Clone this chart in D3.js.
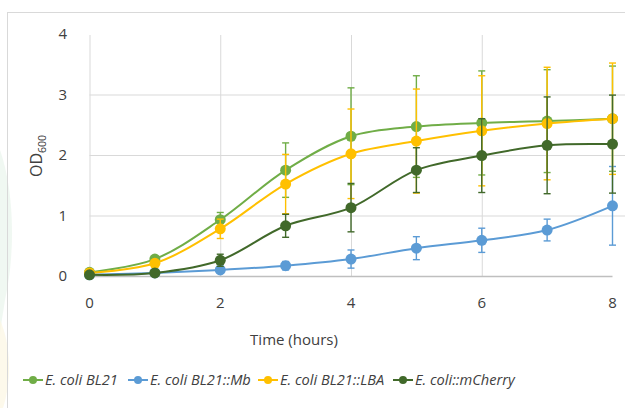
<!DOCTYPE html>
<html>
<head>
<meta charset="utf-8">
<script src="https://cdn.jsdelivr.net/npm/d3@7"></script>
<style>
  body { margin: 0; background: #fff; }
  svg { display: block; font-family: 'Open Sans', sans-serif; }
  .grid line { stroke: #d9d9d9; stroke-width: 1; }
  .grid path { display: none; }
  .tick-label { fill: #404040; font-size: 15px; }
  .legend-label { fill: #404040; font-size: 14.6px; font-style: italic; }
</style>
</head>
<body>
<div id="chart"></div>
<script>
var hours = [0, 1, 2, 3, 4, 5, 6, 7, 8];
var xTicks = [0, 2, 4, 6, 8];
var yTicks = [0, 1, 2, 3, 4];

var bl21 = [0.06, 0.28, 0.93, 1.75, 2.31, 2.47, 2.53, 2.56, 2.60];
var bl21Err = [0.01, 0.03, 0.12, 0.45, 0.80, 0.84, 0.86, 0.85, 0.87];
var mb = [0.02, 0.05, 0.10, 0.17, 0.28, 0.46, 0.59, 0.76, 1.16];
var mbErr = [0.01, 0.01, 0.03, 0.07, 0.15, 0.19, 0.20, 0.18, 0.65];
var lba = [0.05, 0.21, 0.78, 1.52, 2.02, 2.23, 2.40, 2.52, 2.60];
var lbaErr = [0.01, 0.02, 0.16, 0.49, 0.74, 0.86, 0.91, 0.93, 0.92];
var mcherry = [0.02, 0.05, 0.26, 0.83, 1.13, 1.75, 1.99, 2.16, 2.18];
var mcherryErr = [0.01, 0.01, 0.10, 0.19, 0.40, 0.37, 0.61, 0.80, 0.81];

var seriesNames = ['E. coli BL21', 'E. coli BL21::Mb', 'E. coli BL21::LBA', 'E. coli::mCherry'];
var seriesColors = ['#70ad47', '#5b9bd5', '#ffc000', '#41692a'];

var series = [
  { name: seriesNames[0], color: seriesColors[0], values: bl21, err: bl21Err },
  { name: seriesNames[1], color: seriesColors[1], values: mb, err: mbErr },
  { name: seriesNames[2], color: seriesColors[2], values: lba, err: lbaErr },
  { name: seriesNames[3], color: seriesColors[3], values: mcherry, err: mcherryErr }
];

var width = 625, height = 408;

var svg = d3.select('#chart')
  .append('svg')
  .attr('width', width)
  .attr('height', height);

//--- FAINT WATERMARK ON THE LEFT EDGE
svg.append('path')
  .attr('d', 'M0,150 C14,190 16,250 5,300 C2,320 0,330 0,340 Z')
  .attr('fill', '#eaf5ec')
  .attr('opacity', 0.7);
svg.append('path')
  .attr('d', 'M0,320 C11,345 12,380 3,408 L0,408 Z')
  .attr('fill', '#fcf6e2')
  .attr('opacity', 0.7);

//--- FRAME
svg.append('line')
  .attr('x1', 7).attr('x2', width).attr('y1', 12.5).attr('y2', 12.5)
  .attr('stroke', '#d9d9d9');
svg.append('line')
  .attr('x1', 7.5).attr('x2', 7.5).attr('y1', 12).attr('y2', height)
  .attr('stroke', '#d9d9d9');

//--- SCALES
var scaleX = d3.scaleLinear()
  .domain([0, 8])
  .range([89.5, 612.5]);

var scaleY = d3.scaleLinear()
  .domain([0, 4])
  .range([276, 34]);

//--- GRID Y LINES
svg.append('g')
  .attr('class', 'grid')
  .attr('transform', 'translate(89.5,0)')
  .call(
    d3.axisLeft(scaleY)
    .tickValues([1, 2, 3])
    .tickSize(-(width - 89.5))
    .tickFormat('')
  );

//--- GRID X LINES
svg.append('g')
  .attr('class', 'grid')
  .attr('transform', 'translate(0,' + scaleY(0) + ')')
  .call(
    d3.axisBottom(scaleX)
    .tickValues([0, 2, 4, 6])
    .tickSize(-(scaleY(0) - 35))
    .tickFormat('')
  );

//--- X AXIS LINE
svg.append('line')
  .attr('x1', scaleX(0)).attr('x2', scaleX(8))
  .attr('y1', scaleY(0) + 0.5).attr('y2', scaleY(0) + 0.5)
  .attr('stroke', '#bfbfbf')
  .attr('stroke-width', 1.3);

//--- TICK LABELS
svg.append('g')
  .selectAll('text')
  .data(yTicks)
  .join('text')
  .attr('class', 'tick-label')
  .attr('x', 67)
  .attr('y', function(d) { return scaleY(d); })
  .attr('dy', '0.35em')
  .attr('text-anchor', 'end')
  .text(function(d) { return d; });

svg.append('g')
  .selectAll('text')
  .data(xTicks)
  .join('text')
  .attr('class', 'tick-label')
  .attr('x', function(d) { return scaleX(d); })
  .attr('y', 303)
  .attr('dy', '0.35em')
  .attr('text-anchor', 'middle')
  .text(function(d) { return d; });

//--- AXIS TITLES
svg.append('text')
  .attr('class', 'tick-label')
  .attr('x', 294)
  .attr('y', 340)
  .attr('dy', '0.35em')
  .attr('text-anchor', 'middle')
  .text('Time (hours)');

var yTitle = svg.append('text')
  .attr('class', 'tick-label')
  .attr('transform', 'translate(42,156) rotate(-90)')
  .attr('text-anchor', 'middle');
yTitle.append('tspan').attr('font-size', '16px').text('OD');
yTitle.append('tspan')
  .attr('font-size', '10.5px')
  .attr('dy', '4')
  .text('600');

//--- LINE FUNCTION
var lineFunc = d3.line()
  .x(function(d, i) { return scaleX(hours[i]); })
  .y(function(d) { return scaleY(d); })
  .curve(d3.curveCatmullRom.alpha(0.5));

//--- SERIES
series.forEach(function(s) {
  var g = svg.append('g');

  // error bars
  var bars = g.selectAll('.err')
    .data(s.values)
    .join('g');

  bars.append('line')
    .attr('x1', function(d, i) { return scaleX(hours[i]); })
    .attr('x2', function(d, i) { return scaleX(hours[i]); })
    .attr('y1', function(d, i) { return scaleY(d + s.err[i]); })
    .attr('y2', function(d, i) { return scaleY(d - s.err[i]); })
    .attr('stroke', s.color)
    .attr('stroke-width', 1.4);

  [1, -1].forEach(function(sign) {
    bars.append('line')
      .attr('x1', function(d, i) { return scaleX(hours[i]) - 3.5; })
      .attr('x2', function(d, i) { return scaleX(hours[i]) + 3.5; })
      .attr('y1', function(d, i) { return scaleY(d + sign * s.err[i]); })
      .attr('y2', function(d, i) { return scaleY(d + sign * s.err[i]); })
      .attr('stroke', s.color)
      .attr('stroke-width', 1.4);
  });

  g.append('path')
    .datum(s.values)
    .attr('d', lineFunc)
    .attr('fill', 'none')
    .attr('stroke', s.color)
    .attr('stroke-width', 2);

  g.selectAll('circle')
    .data(s.values)
    .join('circle')
    .attr('cx', function(d, i) { return scaleX(hours[i]); })
    .attr('cy', function(d) { return scaleY(d); })
    .attr('r', 5.5)
    .attr('fill', s.color);
});

//--- LEGEND
var legendX = [23, 128, 258, 393];

var legend = svg.append('g')
  .selectAll('g')
  .data(series)
  .join('g')
  .attr('transform', function(d, i) { return 'translate(' + legendX[i] + ',380)'; });

legend.append('line')
  .attr('x1', 0).attr('x2', 20)
  .attr('stroke', function(d) { return d.color; })
  .attr('stroke-width', 2);

legend.append('circle')
  .attr('cx', 10)
  .attr('r', 4)
  .attr('fill', function(d) { return d.color; });

legend.append('text')
  .attr('class', 'legend-label')
  .attr('x', 22)
  .attr('dy', '0.35em')
  .text(function(d) { return d.name; });
</script>
</body>
</html>
